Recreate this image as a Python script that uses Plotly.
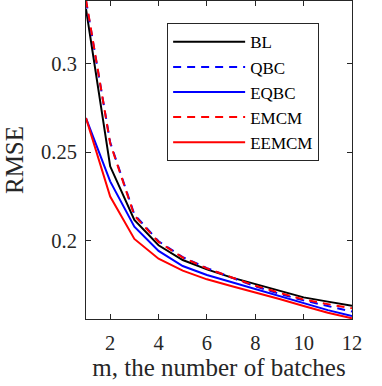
import plotly.graph_objects as go

m = list(range(1, 13))

bl = [0.3308, 0.2420, 0.2117, 0.1974, 0.1891, 0.1838, 0.1793, 0.1754, 0.1716, 0.1680, 0.1656, 0.1633]
qbc = [0.3355, 0.2555, 0.2148, 0.1997, 0.1907, 0.1845, 0.1793, 0.1742, 0.1700, 0.1663, 0.1631, 0.1600]
eqbc = [0.2692, 0.2335, 0.2079, 0.1942, 0.1857, 0.1806, 0.1767, 0.1727, 0.1690, 0.1646, 0.1608, 0.1575]
emcm = [0.3360, 0.2550, 0.2142, 0.1993, 0.1905, 0.1844, 0.1794, 0.1746, 0.1706, 0.1668, 0.1642, 0.1618]
eemcm = [0.2692, 0.2249, 0.2010, 0.1898, 0.1831, 0.1782, 0.1744, 0.1708, 0.1671, 0.1631, 0.1593, 0.1562]

series = [
    ("BL", bl, "black", "solid"),
    ("QBC", qbc, "blue", "8px,6px"),
    ("EQBC", eqbc, "blue", "solid"),
    ("EMCM", emcm, "red", "8px,6px"),
    ("EEMCM", eemcm, "red", "solid"),
]

serif = "Liberation Serif"

fig = go.Figure()
for name, y, color, dash in series:
    fig.add_trace(go.Scatter(x=m, y=y, name=name, mode="lines",
                             line=dict(color=color, width=2, dash=dash)))

axis_common = dict(
    showline=True, linecolor="#262626", linewidth=1, mirror="ticks",
    ticks="inside", ticklen=5, tickcolor="#262626", showgrid=False, zeroline=False,
    automargin=False,
    tickfont=dict(family=serif, size=20.5, color="#262626"),
)

fig.update_layout(
    width=382, height=386,
    margin=dict(l=86, r=30, t=1, b=67),
    paper_bgcolor="white", plot_bgcolor="white",
    font=dict(family=serif, color="#262626"),
    xaxis=dict(range=[1, 12], tickvals=[2, 4, 6, 8, 10, 12], ticklabelstandoff=5,
               title=dict(text="m, the number of batches", font=dict(family=serif, size=25), standoff=2),
               **axis_common),
    yaxis=dict(range=[0.1558, 0.3353], tickvals=[0.2, 0.25, 0.3], ticklabelstandoff=4,
               title=dict(text="RMSE", font=dict(family=serif, size=25), standoff=10),
               **axis_common),
    legend=dict(x=0.305, y=0.93, xanchor="left", yanchor="top",
                bordercolor="#262626", borderwidth=1, bgcolor="white",
                font=dict(family=serif, size=17, color="black"),
                itemwidth=72),
    showlegend=True,
)

# page body has a default 8px margin; drop it so the figure sits at the corner
fig.write_html("out.html", config={"displayModeBar": False},
               post_script="document.body.style.margin='0';")
